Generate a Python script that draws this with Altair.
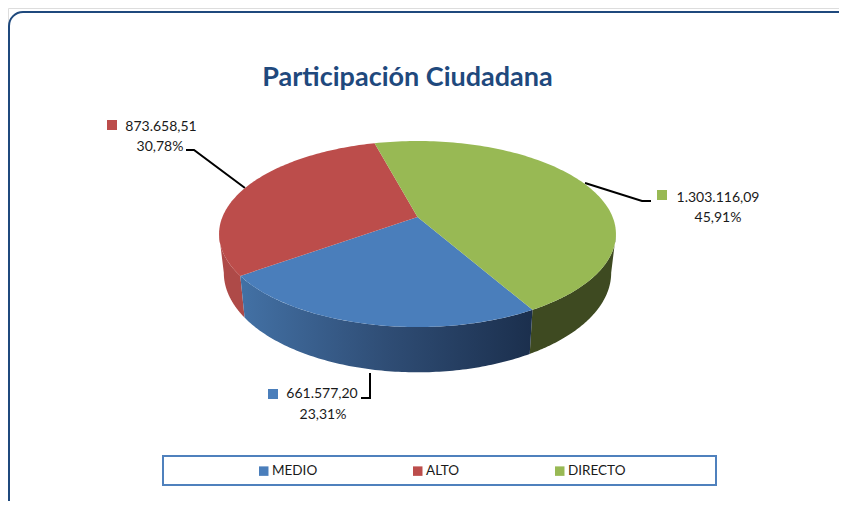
import math
import altair as alt
import pandas as pd

# ---- chart data ----
categories = ["MEDIO", "ALTO", "DIRECTO"]
values = [661577.20, 873658.51, 1303116.09]
value_labels = ["661.577,20", "873.658,51", "1.303.116,09"]
pct_labels = ["23,31%", "30,78%", "45,91%"]
top_colors = ["#4A7EBB", "#BC4D4B", "#98B954"]
title_text = "Participación Ciudadana"

# ---- layout (page pixels) ----
OX, OY = 8, 8
W, H = 831, 493
cx, cy = 417.5 - OX, 217 - OY
A, B, P = 195.1, 89.9, 0.1828
START = math.radians(-15)
SX, SY, BOTTOM_CY = 0.976, 1.07, 254.6 - OY
EXTREME = math.acos(-P)  # angle of the widest point of the top ellipse
FONT = "Lato"


def proj(theta, bottom=False):
    u, v = math.sin(theta), -math.cos(theta)
    w = 1 - P * v
    x, y = A * u / w, B * v / w
    if bottom:
        return cx + SX * x, BOTTOM_CY + SY * y
    return cx + x, cy + y


# slice angles come from the values
total = sum(values)
spans = {}
cur = START
for name in ["DIRECTO", "MEDIO", "ALTO"]:
    span = values[categories.index(name)] / total * 2 * math.pi
    spans[name] = (cur, cur + span)
    cur += span

# top faces
rows = []
for name in categories:
    a0, a1 = spans[name]
    pts = [(cx, cy)] + [proj(a0 + (a1 - a0) * i / 120) for i in range(121)] + [(cx, cy)]
    for i, (x, y) in enumerate(pts):
        rows.append({"cat": name, "i": i, "px": x, "py": y})
top_df = pd.DataFrame(rows)


def wall(a0, a1):
    n = 100
    upper = [proj(a0 + (a1 - a0) * i / n) for i in range(n + 1)]
    lower = [proj(a0 + (a1 - a0) * i / n, True) for i in range(n, -1, -1)]
    pts = upper + lower + [upper[0]]
    return pd.DataFrame([{"i": i, "px": x, "py": y} for i, (x, y) in enumerate(pts)])


xs = alt.Scale(domain=[0, W], range=[0, W], nice=False, zero=False)
ys = alt.Scale(domain=[0, H], range=[0, H], nice=False, zero=False)
X = alt.X("px:Q", scale=xs, axis=None)
Y = alt.Y("py:Q", scale=ys, axis=None)


def wall_layer(a0, a1, fill):
    return alt.Chart(wall(a0, a1)).mark_line(fill=fill, strokeWidth=0, stroke=None, clip=False).encode(
        x=X, y=Y, order="i:Q"
    )


walls = [
    wall_layer(EXTREME, spans["DIRECTO"][1], "#3E4A21"),
    wall_layer(spans["MEDIO"][1], 2 * math.pi - EXTREME, "#AE4A48"),
    wall_layer(
        spans["MEDIO"][0],
        spans["MEDIO"][1],
        alt.Gradient(
            gradient="linear",
            x1=1, y1=0, x2=0, y2=0,
            stops=[
                alt.GradientStop(color="#1B2F4D", offset=0),
                alt.GradientStop(color="#2F4D75", offset=0.5),
                alt.GradientStop(color="#4371A5", offset=1),
            ],
        ),
    ),
]

top = alt.Chart(top_df).mark_line(strokeWidth=0).encode(
    x=X,
    y=Y,
    order="i:Q",
    detail="cat:N",
    fill=alt.Fill(
        "cat:N",
        scale=alt.Scale(domain=categories, range=top_colors),
        legend=alt.Legend(
            title=None,
            orient="none",
            legendX=262 - OX - 5,
            legendY=464 - OY,
            direction="horizontal",
            columns=3,
            columnPadding=93,
            symbolType="square",
            symbolSize=90,
            symbolStrokeWidth=0,
            labelFont=FONT,
            labelFontSize=13.5,
            labelColor="#1a1a1a",
            labelOffset=1.5,
            padding=0,
        ),
    ),
)

frame = alt.Chart(pd.DataFrame({"a": [0]})).mark_rect(
    fill="#ffffff", stroke="#1F497D", strokeWidth=2, cornerRadius=14
).encode(
    x=alt.value(9 - OX), x2=alt.value(900), y=alt.value(12 - OY), y2=alt.value(600)
)

legend_box = alt.Chart(pd.DataFrame({"a": [0]})).mark_rect(
    fill="#ffffff", stroke="#4F81BD", strokeWidth=2
).encode(
    x=alt.value(163 - OX), x2=alt.value(716 - OX), y=alt.value(456 - OY), y2=alt.value(485 - OY)
)

title = alt.Chart(pd.DataFrame({"t": [title_text]})).mark_text(
    font=FONT, fontSize=27, fontWeight="bold", color="#1F497D", align="center", baseline="middle"
).encode(x=alt.value(407.5 - OX), y=alt.value(78 - OY), text="t:N")

# data label placement
label_pos = {
    "MEDIO": {"sx": 273, "sy": 394, "tx": 322, "ty": 394, "px": 323, "py": 415},
    "ALTO": {"sx": 112, "sy": 125, "tx": 161, "ty": 127, "px": 160, "py": 147},
    "DIRECTO": {"sx": 662, "sy": 195, "tx": 718, "ty": 198, "px": 718, "py": 218},
}
lab_rows = []
for c, vl, pl, col in zip(categories, value_labels, pct_labels, top_colors):
    p = label_pos[c]
    lab_rows.append({"cat": c, "vl": vl, "pl": pl, "col": col,
                     "sx": p["sx"] - OX, "sy": p["sy"] - OY,
                     "tx": p["tx"] - OX, "ty": p["ty"] - OY,
                     "ppx": p["px"] - OX, "ppy": p["py"] - OY})
lab_df = pd.DataFrame(lab_rows)

sq = alt.Chart(lab_df).mark_square(size=100, opacity=1, filled=True).encode(
    x=alt.X("sx:Q", scale=xs, axis=None), y=alt.Y("sy:Q", scale=ys, axis=None),
    color=alt.Color("col:N", scale=None),
)
txt1 = alt.Chart(lab_df).mark_text(font=FONT, fontSize=14, color="#1a1a1a", baseline="middle").encode(
    x=alt.X("tx:Q", scale=xs, axis=None), y=alt.Y("ty:Q", scale=ys, axis=None), text="vl:N"
)
txt2 = alt.Chart(lab_df).mark_text(font=FONT, fontSize=14, color="#1a1a1a", baseline="middle").encode(
    x=alt.X("ppx:Q", scale=xs, axis=None), y=alt.Y("ppy:Q", scale=ys, axis=None), text="pl:N"
)

# leader lines
leader_paths = {
    "ALTO": [(186, 150), (194, 150), (245, 188)],
    "DIRECTO": [(585, 183), (642, 201), (651, 201)],
    "MEDIO": [(370, 373), (370, 398), (361, 398)],
}
lrows = []
for c, path in leader_paths.items():
    for i, (x, y) in enumerate(path):
        lrows.append({"cat": c, "i": i, "px": x - OX, "py": y - OY})
leaders = alt.Chart(pd.DataFrame(lrows)).mark_line(color="#000000", strokeWidth=2).encode(
    x=X, y=Y, order="i:Q", detail="cat:N"
)

chart = alt.layer(frame, legend_box, title, leaders, *walls, top, sq, txt1, txt2).properties(
    width=W, height=H, padding=0, autosize=alt.AutoSizeParams(type="none")
).configure_view(stroke=None).configure(background="#ffffff")

chart.save("out.html", embed_options={"renderer": "svg", "actions": False})
